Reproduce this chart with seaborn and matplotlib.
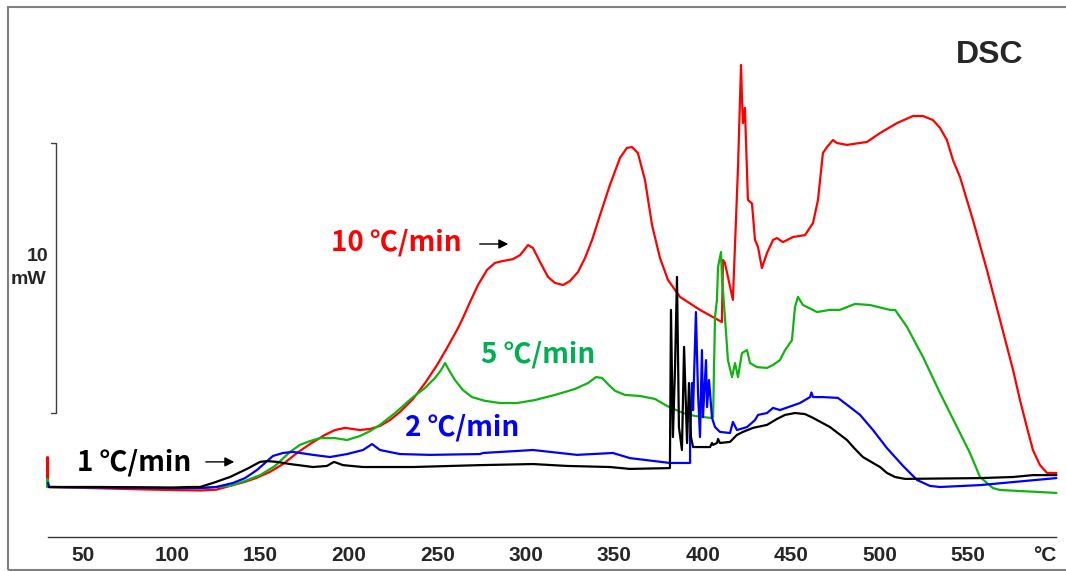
import numpy as np
import pandas as pd
import matplotlib
matplotlib.use("Agg")
import matplotlib.pyplot as plt
import seaborn as sns
from matplotlib.patches import Rectangle

# ---------------- data (temperature in degC, heat flow in mW, baseline = 0) ----------------
red_T = [29.4, 29.4, 29.9, 29.9, 30.5, 60, 90, 115.9, 125, 132.8, 141.3, 147.5, 155.4, 162.8,
         170.7, 178.0, 186.5, 192.2, 197.8, 206.3, 212.0, 217.6, 223.3, 228.9, 236.3, 243.1,
         249.9, 255.5, 261.1, 264.5, 268.5, 273.0, 278.1, 282.6, 287.1, 292.8, 296.8, 301.3,
         304.1, 308.1, 312.6, 316.5, 321.1, 325.0, 329.5, 333.5, 337.5, 342.0, 347.6, 353.3,
         357.2, 360.1, 363.4, 367.4, 371.4, 375.9, 380.4, 387.2, 398.5, 410.9, 411.5, 412.6,
         417.1, 420.0, 421.7, 422.2, 422.8, 423.9, 425.6, 427.9, 429.6, 431.3, 433.5, 436.4,
         439.8, 442.0, 445.4, 451.1, 457.9, 462.4, 465.2, 468.0, 470.3, 473.7, 475.9, 481.6,
         492.9, 500.3, 509.9, 518.9, 524.6, 530.2, 534.2, 538.1, 541.5, 545.5, 552.8, 560.7,
         568.1, 575.5, 579.4, 583.4, 586.7, 590.7, 594.7, 600.0]
red_mW = [0.05, 1.1, 1.1, 0.05, 0.0, -0.05, -0.1, -0.13, -0.1, 0.04, 0.19, 0.33, 0.56, 0.85,
          1.26, 1.59, 1.93, 2.11, 2.19, 2.11, 2.15, 2.26, 2.48, 2.78, 3.26, 3.85,
          4.52, 5.15, 5.81, 6.26, 6.85, 7.48, 8.04, 8.30, 8.37, 8.44, 8.59, 8.96,
          8.85, 8.33, 7.78, 7.56, 7.48, 7.63, 7.96, 8.48, 9.15, 10.07, 11.19, 12.19,
          12.56, 12.59, 12.37, 11.37, 9.70, 8.48, 7.67, 7.04, 6.56, 6.11, 8.41, 8.3,
          6.93, 11.85, 15.63, 14.5, 13.48, 14.04, 10.63, 10.5, 9.15, 8.89, 8.11, 8.67,
          9.15, 9.22, 9.07, 9.26, 9.33, 9.78, 10.63, 12.37, 12.59, 12.85, 12.74, 12.67,
          12.78, 13.11, 13.48, 13.74, 13.74, 13.59, 13.3, 12.85, 12.11, 11.48, 9.89, 8.04,
          6.19, 4.33, 3.22, 2.19, 1.37, 0.81, 0.52, 0.52]

green_T = [29.4, 29.4, 29.9, 30.5, 60, 100, 115.9, 125, 132.8, 141.3, 149.8, 158.3, 166.7, 172.4,
           178.0, 183.7, 192.2, 199.0, 206.3, 212.0, 217.6, 226.1, 236.3, 243.1, 248.7, 252.1,
           254.4, 256.6, 260.0, 264.5, 269.6, 277.0, 285.4, 295.1, 305.2, 316.5, 327.8, 335.2,
           339.7, 343.1, 346.5, 350.5, 356.1, 364.6, 373.1, 379.9, 388.9, 395.7, 404.2, 405.9,
           407.0, 408.1, 408.7, 410.4, 410.9, 412.6, 414.3, 416.6, 418.3, 420.0, 422.2, 425.1,
           426.8, 430.7, 436.4, 439.8, 443.7, 446.6, 450.5, 452.2, 453.9, 456.7, 464.7, 472.0,
           477.6, 486.1, 494.6, 505.9, 508.8, 515.5, 524.6, 534.2, 543.8, 551.1, 556.8, 564.1,
           568.1, 600.0]
green_mW = [0.0, 0.3, 0.25, 0.0, -0.02, -0.04, -0.04, 0.0, 0.04, 0.22, 0.44, 0.78, 1.30, 1.56,
            1.70, 1.81, 1.81, 1.74, 1.89, 2.07, 2.30, 2.74, 3.33, 3.67, 4.04, 4.33,
            4.59, 4.33, 3.96, 3.59, 3.33, 3.19, 3.11, 3.11, 3.22, 3.41, 3.63, 3.85,
            4.07, 4.04, 3.81, 3.56, 3.41, 3.37, 3.26, 3.0, 2.74, 2.63, 2.56, 2.59,
            6.30, 6.93, 8.15, 8.70, 7.78, 6.30, 4.70, 4.07, 4.59, 4.07, 4.96, 5.07,
            4.59, 4.44, 4.41, 4.52, 4.70, 5.07, 5.44, 6.67, 7.04, 6.74, 6.48, 6.56,
            6.56, 6.78, 6.74, 6.56, 6.56, 5.93, 4.81, 3.48, 2.22, 1.26, 0.37, -0.04,
            -0.11, -0.22]

blue_T = [29.9, 30.5, 60, 100, 115.9, 125, 134.5, 141.3, 148.1, 152.6, 157.1, 162.8, 168.4,
          179.7, 189.3, 199.0, 208.0, 213.1, 217.6, 228.9, 245.9, 274.1, 275.8, 304.1, 329.0,
          349.3, 358.9, 381.5, 392.9, 392.9, 394.0, 394.6, 396.2, 397.4, 398.5, 399.6, 400.2,
          401.9, 402.5, 403.6, 405.3, 407.0, 409.8, 415.5, 417.1, 419.4, 425.1, 429.6, 431.3,
          436.4, 439.8, 443.7, 455.0, 460.7, 461.5, 462.4, 468.0, 476.5, 483.3, 489.0, 496.3,
          504.2, 513.3, 521.2, 528.5, 534.2, 556.8, 600.0]
blue_mW = [0.15, 0.0, -0.02, -0.04, -0.04, 0.0, 0.15, 0.33, 0.63, 0.89, 1.15, 1.26, 1.30,
           1.19, 1.11, 1.22, 1.37, 1.59, 1.37, 1.22, 1.19, 1.22, 1.26, 1.37, 1.19,
           1.26, 1.07, 0.89, 0.89, 1.85, 3.85, 2.85, 6.48, 3.48, 1.85, 5.07, 2.59,
           4.70, 2.96, 3.96, 2.56, 2.22, 2.04, 2.0, 2.41, 2.11, 2.22, 2.48, 2.67,
           2.74, 2.93, 2.85, 3.11, 3.33, 3.5, 3.33, 3.33, 3.30, 2.96, 2.67, 2.11,
           1.44, 0.78, 0.26, 0.04, 0.0, 0.07, 0.33]

black_T = [30.5, 60, 100, 110.2, 115.9, 123.2, 132.8, 142.4, 149.8, 153.7, 159.4, 166.7, 179.7,
           187.6, 191.6, 196.7, 208.0, 236.3, 274.1, 304.1, 323.3, 347.6, 358.9, 381.5, 382.1,
           383.2, 384.4, 385.5, 386.6, 388.3, 389.5, 391.2, 392.3, 393.4, 394.6, 400.2, 404.2,
           405.3, 405.9, 408.1, 408.7, 409.8, 415.5, 419.4, 422.8, 428.5, 436.4, 442.0, 446.6,
           452.2, 457.9, 462.4, 472.0, 481.6, 486.1, 490.6, 496.3, 500.3, 504.2, 508.8, 514.4,
           556.8, 575.5, 586.7, 600.0]
black_mW = [0.0, 0.0, -0.02, 0.0, 0.0, 0.15, 0.37, 0.67, 0.93, 0.96, 0.93, 0.85, 0.74,
            0.78, 0.93, 0.81, 0.74, 0.74, 0.81, 0.85, 0.78, 0.74, 0.67, 0.70, 6.56,
            1.85, 4.44, 7.78, 2.22, 1.37, 5.19, 1.63, 3.85, 1.85, 1.48, 1.48, 1.48,
            1.63, 1.56, 1.63, 1.78, 1.63, 1.67, 1.93, 2.04, 2.19, 2.30, 2.52, 2.67,
            2.74, 2.70, 2.56, 2.22, 1.74, 1.41, 1.11, 0.89, 0.74, 0.52, 0.37, 0.30,
            0.33, 0.37, 0.44, 0.44]

series_names = ["10 ℃/min", "5 ℃/min", "2 ℃/min", "1 ℃/min"]
line_colors = ["#FF0000", "#10B410", "#0000FF", "#000000"]
text_colors = ["#FF0000", "#00B050", "#0000FF", "#000000"]
major_ticks = [50, 100, 150, 200, 250, 300, 350, 400, 450, 500, 550, 600]
major_labels = ["50", "100", "150", "200", "250", "300", "350", "400", "450", "500", "550", "°C"]
scale_mW = 10

# ---------------- build long table ----------------
frames = []
for name, T, v in zip(series_names, [red_T, green_T, blue_T, black_T],
                      [red_mW, green_mW, blue_mW, black_mW]):
    frames.append(pd.DataFrame({"T": T, "mW": v, "rate": name}))
df = pd.concat(frames, ignore_index=True)

sns.set_style("white")
plt.rcParams["font.family"] = ["Liberation Sans", "DejaVu Sans"]
cjk = ["Noto Sans CJK KR", "DejaVu Sans"]

fig = plt.figure(figsize=(10.66, 5.71), dpi=100)
ax = fig.add_axes([0.04348, 0.05954, 0.9492, 0.90543])

sns.lineplot(data=df, x="T", y="mW", hue="rate", hue_order=series_names,
             palette=dict(zip(series_names, line_colors)), sort=False, estimator=None,
             linewidth=1.6, legend=False, ax=ax)

ax.set_xlim(29, 601)
ax.set_ylim(-1.852, 17.296)
ax.set_xlabel("")
ax.set_ylabel("")
ax.set_yticks([])
for s in ["left", "top", "right"]:
    ax.spines[s].set_visible(False)
ax.spines["bottom"].set_bounds(30, 600)
ax.spines["bottom"].set_color("#333333")
ax.spines["bottom"].set_linewidth(1.0)

ax.set_xticks(major_ticks)
ax.set_xticklabels(major_labels)
ax.set_xticks(np.arange(30, 601, 10), minor=True)
ax.tick_params(axis="x", which="both", direction="out", length=3.5, width=1.0,
               color="#333333", pad=3)
ax.tick_params(axis="x", which="major", labelsize=15)
for lab in ax.get_xticklabels():
    lab.set_fontweight("bold")
ax.get_xticklabels()[-1].set_horizontalalignment("right")

# scale bar
ax.plot([31.6, 34.5, 34.5, 31.6], [12.74, 12.74, 12.74 - scale_mW, 12.74 - scale_mW],
        color="#404040", lw=1.0, clip_on=False)
ax.text(29.9, 8.52, str(scale_mW), ha="right", va="center", fontsize=14, fontweight="bold",
        clip_on=False)
ax.text(28.8, 7.70, "mW", ha="right", va="center", fontsize=14, fontweight="bold",
        clip_on=False)

# series labels
label_pos = [(226.9, 9.04), (307.2, 4.89), (264.2, 2.19), (78.8, 0.89)]
for name, col, (tx, ty) in zip(series_names, text_colors, label_pos):
    ax.text(tx, ty, name, color=col, ha="center", va="center", fontsize=20,
            fontweight="bold", family=cjk)

ax.annotate("", xy=(291.7, 9.0), xytext=(272.4, 9.0),
            arrowprops=dict(arrowstyle="-|>", color="black", lw=1.0, mutation_scale=14))
ax.annotate("", xy=(136.8, 0.93), xytext=(117.6, 0.93),
            arrowprops=dict(arrowstyle="-|>", color="black", lw=1.0, mutation_scale=14))

ax.text(562.4, 16.0, "DSC", ha="center", va="center", fontsize=23, fontweight="bold")

# outer frame
fig.patches.append(Rectangle((8 / 1066, 1.5 / 571), 1.2, (571 - 7 - 1.5) / 571,
                             transform=fig.transFigure, fill=False, edgecolor="#808080",
                             linewidth=1.5))

fig.savefig("out.png", dpi=100)
